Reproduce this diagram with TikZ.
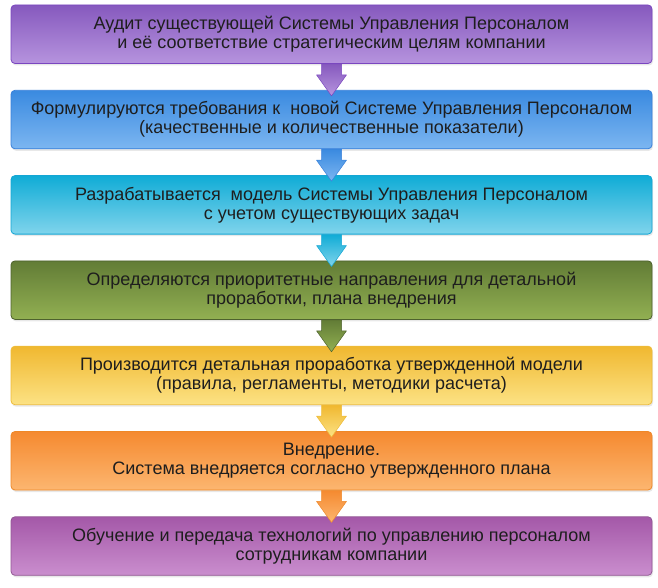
\documentclass[tikz,border=0pt]{standalone}
\usepackage{fontspec}
\setmainfont{Liberation Sans}
\usetikzlibrary{positioning,shadows}

\definecolor{puA}{RGB}{134,89,190}  \definecolor{puB}{RGB}{182,148,222} \definecolor{puD}{RGB}{122,70,192}
\definecolor{blA}{RGB}{58,138,224}  \definecolor{blB}{RGB}{124,182,241} \definecolor{blD}{RGB}{56,128,218}
\definecolor{cyA}{RGB}{16,172,214}  \definecolor{cyB}{RGB}{128,212,236} \definecolor{cyD}{RGB}{20,166,212}
\definecolor{grA}{RGB}{98,124,54}   \definecolor{grB}{RGB}{146,176,82}  \definecolor{grD}{RGB}{78,98,46}
\definecolor{yeA}{RGB}{240,184,48}  \definecolor{yeB}{RGB}{252,226,132} \definecolor{yeD}{RGB}{238,188,58}
\definecolor{orA}{RGB}{245,138,48}  \definecolor{orB}{RGB}{252,182,112} \definecolor{orD}{RGB}{238,136,40}
\definecolor{mgA}{RGB}{164,88,168}  \definecolor{mgB}{RGB}{202,142,206} \definecolor{mgD}{RGB}{146,88,148}
\definecolor{txt}{RGB}{30,30,30}

\begin{document}
\begin{tikzpicture}[x=1pt,y=1pt,
  box/.style={rectangle,rounded corners=4pt,line width=0.8pt,minimum width=641pt,minimum height=58.5pt,
    align=center,text=txt,font=\fontsize{18}{19}\selectfont,
    drop shadow={opacity=0.18,shadow xshift=1pt,shadow yshift=-2pt}},
  node distance=26pt]

\useasboundingbox (0,0) rectangle (658,-588);

\node[box, top color=puA, bottom color=puB, draw=puD] (b1) at (331.5,-34.25)
  {Аудит существующей Системы Управления Персоналом\\и её соответствие стратегическим целям компании};
\node[box, top color=blA, bottom color=blB, draw=blD, below=of b1] (b2)
  {Формулируются требования к~ новой Системе Управления Персоналом\\(качественные и количественные показатели)};
\node[box, top color=cyA, bottom color=cyB, draw=cyD, below=of b2] (b3)
  {Разрабатывается~ модель Системы Управления Персоналом\\с учетом существующих задач};
\node[box, top color=grA, bottom color=grB, draw=grD, below=of b3] (b4)
  {Определяются приоритетные направления для детальной\\проработки, плана внедрения};
\node[box, top color=yeA, bottom color=yeB, draw=yeD, below=of b4] (b5)
  {Производится детальная проработка утвержденной модели\\(правила, регламенты, методики расчета)};
\node[box, top color=orA, bottom color=orB, draw=orD, below=of b5] (b6)
  {Внедрение.\\Система внедряется согласно утвержденного плана};
\node[box, top color=mgA, bottom color=mgB, draw=mgD, below=of b6] (b7)
  {Обучение и передача технологий по управлению персоналом\\сотрудникам компании};

% block arrows between the steps
\foreach \a/\b/\c in {b1/b2/pu,b2/b3/bl,b3/b4/cy,b4/b5/gr,b5/b6/ye,b6/b7/or}
  \shade[top color=\c A, bottom color=\c B, draw=\c D, line width=0.5pt, line join=round]
    ([xshift=-10pt]\a.south) -- ([xshift=10pt]\a.south) -- ([xshift=10pt,yshift=15pt]\b.north)
    -- ([xshift=15pt,yshift=15pt]\b.north) -- ([yshift=-6pt]\b.north)
    -- ([xshift=-15pt,yshift=15pt]\b.north) -- ([xshift=-10pt,yshift=15pt]\b.north) -- cycle;

\end{tikzpicture}
\end{document}
